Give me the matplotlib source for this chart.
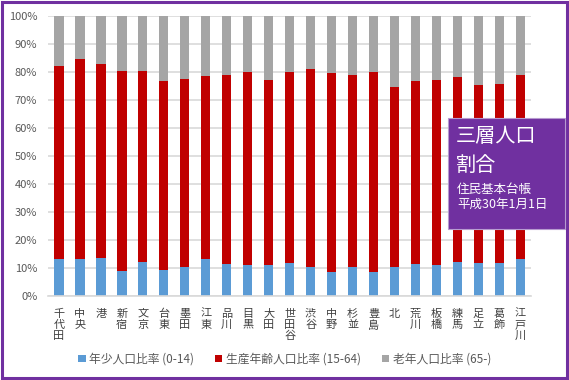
import matplotlib.pyplot as plt
import numpy as np
from matplotlib.patches import Rectangle

plt.rcParams['font.family'] = ['Noto Sans CJK JP', 'DejaVu Sans']

wards = ['千代田', '中央', '港', '新宿', '文京', '台東', '墨田', '江東', '品川', '目黒', '大田', '世田谷',
         '渋谷', '中野', '杉並', '豊島', '北', '荒川', '板橋', '練馬', '足立', '葛飾', '江戸川']
young = [13.1, 13.1, 13.4, 8.9, 12.1, 9.2, 10.5, 13.1, 11.4, 11.0, 11.1, 11.9,
         10.2, 8.7, 10.2, 8.7, 10.2, 11.4, 11.0, 12.1, 11.9, 11.9, 13.2]
working = [69.2, 71.7, 69.6, 71.5, 68.3, 67.6, 67.0, 65.5, 67.6, 69.1, 66.2, 68.1,
           70.9, 70.8, 68.8, 71.3, 64.4, 65.4, 66.0, 66.2, 63.5, 63.7, 65.8]
elderly = [17.7, 15.2, 17.0, 19.6, 19.6, 23.2, 22.5, 21.4, 21.0, 19.9, 22.7, 20.0,
           18.9, 20.5, 21.0, 20.0, 25.4, 23.2, 23.0, 21.7, 24.6, 24.4, 21.0]
labels = ['年少人口比率 (0-14)', '生産年齢人口比率 (15-64)', '老年人口比率 (65-)']
colors = ['#5B9BD5', '#C00000', '#A5A5A5']

fig = plt.figure(figsize=(5.69, 3.80), dpi=100)
ax = fig.add_axes([0.085, 0.221, 0.848, 0.737])

x = np.arange(len(wards))
y = np.array(young)
w = np.array(working)
e = np.array(elderly)
ax.bar(x, y, width=0.45, color=colors[0], label=labels[0], zorder=2)
ax.bar(x, w, width=0.45, bottom=y, color=colors[1], label=labels[1], zorder=2)
ax.bar(x, e, width=0.45, bottom=y + w, color=colors[2], label=labels[2], zorder=2)

ax.set_xlim(-0.5, len(wards) - 0.5)
ax.set_ylim(0, 100)
ax.set_yticks(range(0, 101, 10))
ax.set_yticklabels([f'{v}%' for v in range(0, 101, 10)], color='#595959', fontsize=8)
ax.set_xticks(x)
ax.set_xticklabels(['\n'.join(n) for n in wards], fontsize=8, color='#404040',
                   va='top', linespacing=1.15)
ax.tick_params(axis='y', length=0, pad=8)
ax.tick_params(axis='x', length=0, pad=9)
ax.yaxis.grid(True, color='#D9D9D9', linewidth=1.2, zorder=0)
for s in ['top', 'right', 'left']:
    ax.spines[s].set_visible(False)
ax.spines['bottom'].set_color('#D9D9D9')
ax.spines['bottom'].set_linewidth(1.2)

ax.legend(loc='center', bbox_to_anchor=(0.49, -0.225), ncol=3, frameon=False,
          fontsize=8.5, handlelength=0.6, handleheight=0.6, handletextpad=0.3,
          columnspacing=1.8, labelcolor='#595959')

# title box
fig.patches.append(Rectangle((448 / 569, 1 - 229 / 380), 117 / 569, 111 / 380,
                             transform=fig.transFigure, facecolor='#7030A0',
                             edgecolor='#B79AD0', linewidth=0.8, zorder=5))
fig.text(456 / 569, 1 - 137 / 380, '三層人口', color='white', fontsize=14.5, va='center', zorder=6)
fig.text(456 / 569, 1 - 165 / 380, '割合', color='white', fontsize=14.5, va='center', zorder=6)
fig.text(457 / 569, 1 - 189 / 380, '住民基本台帳', color='white', fontsize=9, va='center', zorder=6)
fig.text(457 / 569, 1 - 204 / 380, '平成30年1月1日', color='white', fontsize=9, va='center', zorder=6)

# outer border
fig.patches.append(Rectangle((0.003, 0.004), 0.994, 0.992, transform=fig.transFigure,
                             facecolor='none', edgecolor='#7030A0', linewidth=2.2))

fig.savefig('out.png', dpi=100)
